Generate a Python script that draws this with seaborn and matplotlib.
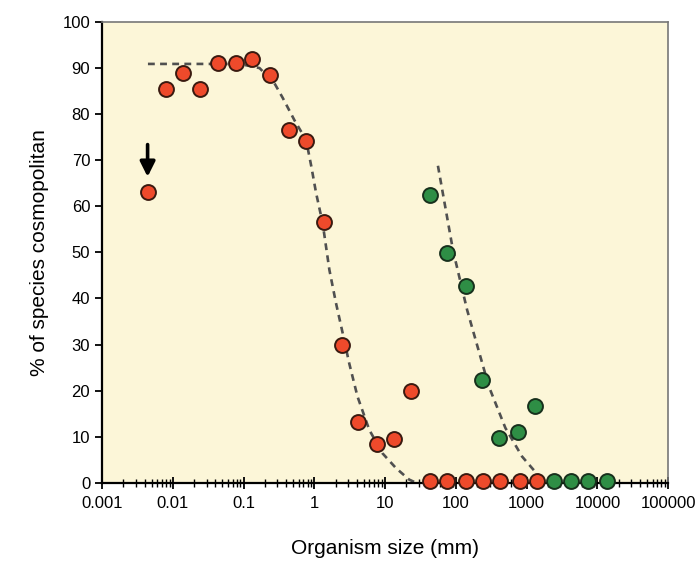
import numpy as np
import pandas as pd
import matplotlib
matplotlib.use("Agg")
import matplotlib.pyplot as plt
from matplotlib.ticker import FixedLocator, LogLocator, NullFormatter
import seaborn as sns

# Data
red_x = [0.0044, 0.0079, 0.0137, 0.024, 0.0435, 0.079, 0.133, 0.238, 0.434, 0.764,
         1.38, 2.43, 4.2, 7.7, 13.2, 23.2,
         42.7, 75, 137, 240, 421, 796, 1413]
red_y = [63.0, 85.4, 89.0, 85.4, 91.0, 91.2, 91.9, 88.6, 76.5, 74.1,
         56.6, 29.8, 13.2, 8.5, 9.6, 20.0,
         0.3, 0.3, 0.3, 0.3, 0.3, 0.3, 0.3]
green_x = [42.7, 74.6, 138, 230, 412, 763, 1310,
           2400, 4170, 7240, 13500]
green_y = [62.5, 49.9, 42.7, 22.2, 9.8, 11.1, 16.6,
           0.3, 0.3, 0.3, 0.3]

# dashed fitted curves (traced points)
red_fit_x = [0.00445, 0.088, 0.168, 0.273, 0.358, 0.522, 0.764, 0.899, 1.057, 1.31,
             1.63, 2.02, 2.51, 3.11, 4.07, 5.96, 9.17, 14.2, 21.8, 27.4]
red_fit_y = [90.9, 90.9, 90.0, 86.7, 83.5, 78.7, 74.4, 68.9, 62.9, 56.3,
             46.2, 39.0, 32.5, 25.9, 18.7, 11.5, 6.4, 3.2, 0.7, 0.0]
green_fit_x = [55.7, 90.8, 144, 292, 500, 860, 1442, 1620]
green_fit_y = [68.8, 50.5, 37.5, 20.9, 11.9, 5.7, 1.7, 0.8]

x_ticks = [0.001, 0.01, 0.1, 1, 10, 100, 1000, 10000, 100000]
x_tick_labels = ["0.001", "0.01", "0.1", "1", "10", "100", "1000", "10000", "100000"]
y_ticks = list(range(0, 101, 10))

sns.set_style("ticks")
plt.rcParams['font.family'] = ['Liberation Sans', 'DejaVu Sans']
plt.rcParams['text.color'] = 'black'
plt.rcParams['axes.labelcolor'] = 'black'
plt.rcParams['xtick.color'] = 'black'
plt.rcParams['ytick.color'] = 'black'

fig = plt.figure(figsize=(6.99, 5.64), dpi=100)
ax = fig.add_axes([0.146, 0.144, 0.810, 0.817])
ax.set_facecolor('#FCF6D8')

red_col = '#EE4A2B'
green_col = '#2E8E45'

sns.lineplot(x=red_fit_x, y=red_fit_y, ax=ax, color='#505050', lw=1.9,
             linestyle=(0, (2.6, 2.0)), sort=False, zorder=2)
sns.lineplot(x=green_fit_x, y=green_fit_y, ax=ax, color='#505050', lw=1.9,
             linestyle=(0, (2.6, 2.0)), sort=False, zorder=2)

sns.scatterplot(x=red_x, y=red_y, ax=ax, color=red_col, s=115, edgecolor='#3a1a10',
                linewidth=1.4, clip_on=False, zorder=4)
sns.scatterplot(x=green_x, y=green_y, ax=ax, color=green_col, s=115, edgecolor='#17301c',
                linewidth=1.4, clip_on=False, zorder=4)

# arrow pointing at the smallest-size point
ax.annotate('', xy=(red_x[0], 65.8), xytext=(red_x[0], 74),
            arrowprops=dict(arrowstyle='-|>,head_width=0.45,head_length=0.9',
                            color='black', lw=2.6))

ax.set_xscale('log')
ax.set_xlim(0.001, 100000)
ax.set_ylim(0, 100)
ax.xaxis.set_major_locator(FixedLocator(x_ticks))
ax.set_xticklabels(x_tick_labels)
ax.xaxis.set_minor_locator(LogLocator(base=10, subs=np.arange(2, 10), numticks=20))
ax.xaxis.set_minor_formatter(NullFormatter())
ax.set_yticks(y_ticks)

ax.tick_params(axis='x', which='major', direction='inout', length=9, width=1.3,
               labelsize=12, pad=5)
ax.tick_params(axis='x', which='minor', direction='inout', length=6, width=1.0)
ax.tick_params(axis='y', which='major', direction='out', length=5, width=1.3,
               labelsize=12)

for side in ['left', 'bottom']:
    ax.spines[side].set_color('black')
    ax.spines[side].set_linewidth(1.6)
for side in ['top', 'right']:
    ax.spines[side].set_visible(True)
    ax.spines[side].set_color('#777777')
    ax.spines[side].set_linewidth(1.2)

ax.set_xlabel('Organism size (mm)', fontsize=15, labelpad=20)
ax.set_ylabel('% of species cosmopolitan', fontsize=15, labelpad=10)

fig.savefig('out.png', dpi=100)
